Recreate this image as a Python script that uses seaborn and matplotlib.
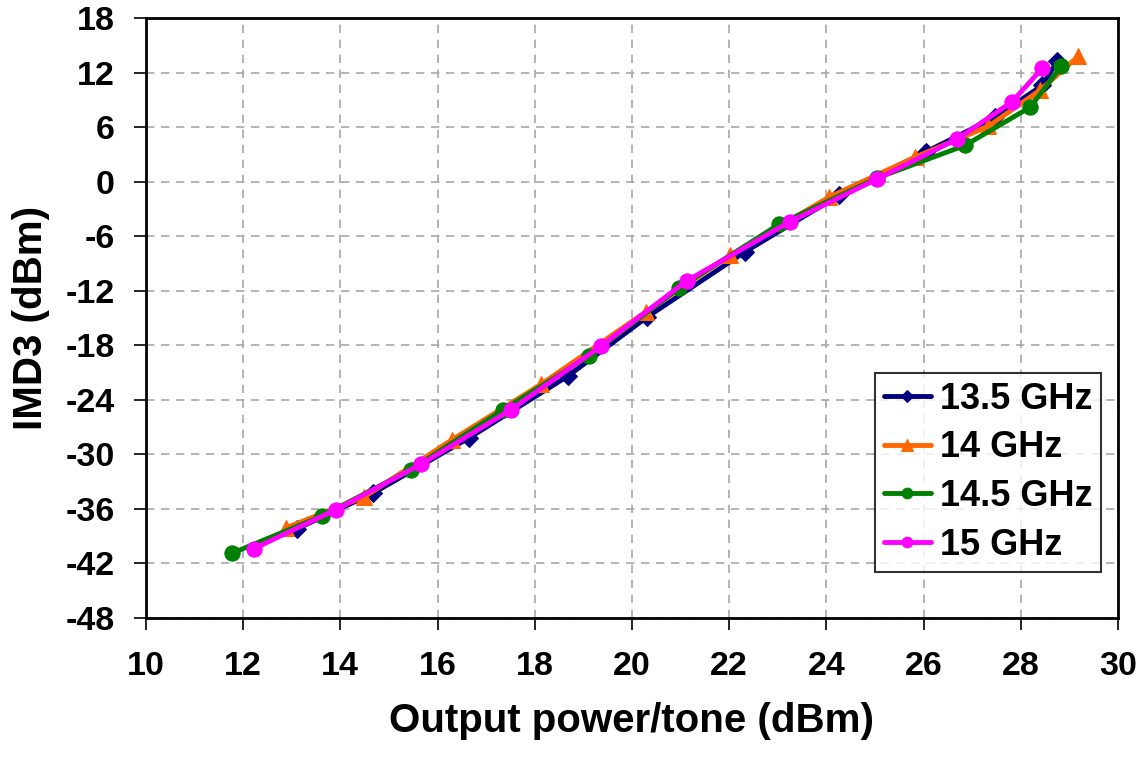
import numpy as np
import pandas as pd
import matplotlib
matplotlib.use("Agg")
import matplotlib.pyplot as plt
import seaborn as sns

# 读图估计的数据
pout_135 = [13.11, 14.67, 16.65, 18.68, 20.31, 22.33, 24.26, 26.05, 27.47, 28.44, 28.75]
imd3_135 = [-38.2, -34.3, -28.2, -21.4, -14.9, -7.7, -1.5, 3.3, 7.1, 10.6, 13.3]

pout_14 = [12.88, 14.49, 16.30, 18.13, 20.29, 22.02, 24.05, 25.82, 27.33, 28.40, 29.18]
imd3_14 = [-38.1, -34.7, -28.4, -22.3, -14.3, -8.1, -1.7, 2.7, 6.1, 10.1, 13.8]

pout_145 = [11.77, 13.62, 15.45, 17.35, 19.12, 20.97, 23.02, 25.04, 26.85, 28.19, 28.83]
imd3_145 = [-40.9, -36.8, -31.7, -25.1, -19.2, -11.7, -4.7, 0.4, 4.0, 8.2, 12.7]

pout_15 = [12.22, 13.91, 15.66, 17.51, 19.36, 21.13, 23.25, 25.04, 26.69, 27.82, 28.44]
imd3_15 = [-40.4, -36.1, -31.1, -25.1, -18.1, -10.9, -4.4, 0.3, 4.7, 8.8, 12.5]

labels = ['13.5 GHz', '14 GHz', '14.5 GHz', '15 GHz']
colors = ['#000080', '#FF6600', '#008000', '#FF00FF']
markers = ['D', '^', 'o', 'o']

df = pd.concat([
    pd.DataFrame({'pout': x, 'imd3': y, 'freq': lab})
    for x, y, lab in zip([pout_135, pout_14, pout_145, pout_15],
                         [imd3_135, imd3_14, imd3_145, imd3_15], labels)
], ignore_index=True)

sns.set_style('white')
plt.rcParams['font.family'] = ['Liberation Sans', 'DejaVu Sans']
plt.rcParams['font.weight'] = 'bold'
plt.rcParams['axes.unicode_minus'] = False
plt.rcParams['text.color'] = 'black'
plt.rcParams['axes.labelcolor'] = 'black'

fig = plt.figure(figsize=(11.48, 7.58), dpi=100)
ax = fig.add_axes([0.127, 0.185, 0.847, 0.791])

msizes = {'13.5 GHz': 9, '14 GHz': 12, '14.5 GHz': 11, '15 GHz': 11}
for lab, c, m in zip(labels, colors, markers):
    sub = df[df['freq'] == lab]
    sns.lineplot(data=sub, x='pout', y='imd3', ax=ax, color=c, marker=m,
                 markersize=msizes[lab], markeredgecolor=c, linewidth=3.5,
                 sort=False, estimator=None, label=lab)

ax.set_xlim(10, 30)
ax.set_ylim(-48, 18)
ax.set_xticks(np.arange(10, 31, 2))
ax.set_yticks(np.arange(-48, 19, 6))
ax.grid(True, linestyle=(0, (5, 4)), color='#a8a8a8', linewidth=1.2)
ax.tick_params(axis='both', labelsize=24.5, direction='out', length=8.6, width=1.2,
               colors='black', left=True, bottom=True)
ax.tick_params(axis='x', pad=15)
ax.tick_params(axis='y', pad=14)
for lbl in ax.get_xticklabels() + ax.get_yticklabels():
    lbl.set_fontweight('bold')
for s in ax.spines.values():
    s.set_color('black')
    s.set_linewidth(2)

ax.set_xlabel('Output power/tone (dBm)', fontsize=29, fontweight='bold', labelpad=15)
ax.set_ylabel('IMD3 (dBm)', fontsize=29, fontweight='bold', labelpad=11)

leg = ax.legend(loc='lower right', bbox_to_anchor=(0.9825, 0.0767), fontsize=26,
                frameon=True, fancybox=False, edgecolor='black', handlelength=1.3,
                handletextpad=0.25, borderpad=0.25, labelspacing=0.38, markerscale=0.7,
                borderaxespad=0)
leg.get_frame().set_linewidth(1.5)
for t in leg.get_texts():
    t.set_fontweight('bold')

fig.savefig('out.png', dpi=100)
